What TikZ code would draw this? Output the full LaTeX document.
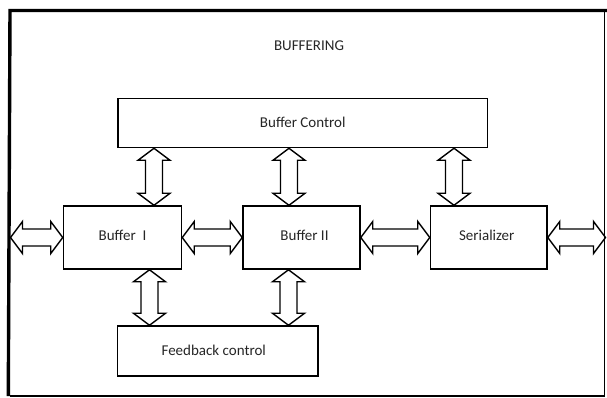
\documentclass[tikz,border=0pt]{standalone}
\usepackage{fontspec}
\setmainfont{Carlito}
\usetikzlibrary{calc}
\begin{document}
\begin{tikzpicture}[x=1pt,y=-1pt,
  box/.style={draw, line width=1.5pt, inner sep=0pt, text=black!85,
    font=\fontsize{15}{18}\selectfont},
  lbl/.style={text=black!85, inner sep=0pt, font=\fontsize{15}{18}\selectfont},
  fat/.style={draw, line width=1.4pt, line join=miter, to path={
    let \p1=(\tikztostart), \p2=(\tikztotarget),
        \n1={veclen(\x2-\x1,\y2-\y1)}, \n2={atan2(\y2-\y1,\x2-\x1)} in
    ([shift={(\p1)},rotate=\n2]0pt,0pt)
    -- ([shift={(\p1)},rotate=\n2]12pt,16pt)
    -- ([shift={(\p1)},rotate=\n2]12pt,8.5pt)
    -- ([shift={(\p1)},rotate=\n2]{\n1-12pt},8.5pt)
    -- ([shift={(\p1)},rotate=\n2]{\n1-12pt},16pt)
    -- ([shift={(\p1)},rotate=\n2]\n1,0pt)
    -- ([shift={(\p1)},rotate=\n2]{\n1-12pt},-16pt)
    -- ([shift={(\p1)},rotate=\n2]{\n1-12pt},-8.5pt)
    -- ([shift={(\p1)},rotate=\n2]12pt,-8.5pt)
    -- ([shift={(\p1)},rotate=\n2]12pt,-16pt)
    -- cycle}}]
\useasboundingbox (0,0) rectangle (607,397);
\fill[white] (0,0) rectangle (607,397);
% outer frame
\draw[line width=3.4pt] (8.3,396) -- (10,10.5) -- (607,10.5);
\draw[line width=1.6pt] (10,396) -- (604.5,396) -- (604.5,10.5);
% title
\node[lbl] (title) at (309,46) {BUFFERING};
% boxes
\node[box, minimum width=369.5pt, minimum height=49pt] (bc) at (302.75,123) {\raisebox{1pt}{Buffer Control}};
\node[box, minimum width=118pt, minimum height=63pt] (b1) at (122.5,237.5) {\raisebox{3.5pt}{Buffer\ \ I}};
\node[box, minimum width=117pt, minimum height=63pt] (b2) at (301.5,237.5) {\raisebox{3.5pt}{\hspace{6pt}Buffer II}};
\node[box, minimum width=116.5pt, minimum height=63pt] (ser) at (488.75,237.5) {\raisebox{3.5pt}{Serializer\hspace{4pt}}};
\node[box, minimum width=200.5pt, minimum height=50pt] (fb) at (217.75,351) {\raisebox{2pt}{Feedback control\hspace{8pt}}};
% helper coordinates
\coordinate (a1) at (154,0);
\coordinate (a2) at (289,0);
\coordinate (a3) at (454,0);
\coordinate (a4) at (149.5,0);
\coordinate (a5) at (288.5,0);
\coordinate (fl) at (10.5,237.5);
\coordinate (fr) at (605.5,237.5);
% vertical double arrows
\draw[fat] (bc.south -| a1) to (b1.north -| a1);
\draw[fat] (bc.south -| a2) to (b2.north -| a2);
\draw[fat] (bc.south -| a3) to (ser.north -| a3);
\draw[fat] (b1.south -| a4) to (fb.north -| a4);
\draw[fat] (b2.south -| a5) to (fb.north -| a5);
% horizontal double arrows
\draw[fat] (fl) to (b1.west);
\draw[fat] (b1.east) to (b2.west);
\draw[fat] (b2.east) to (ser.west);
\draw[fat] (ser.east) to (fr);
\end{tikzpicture}
\end{document}
